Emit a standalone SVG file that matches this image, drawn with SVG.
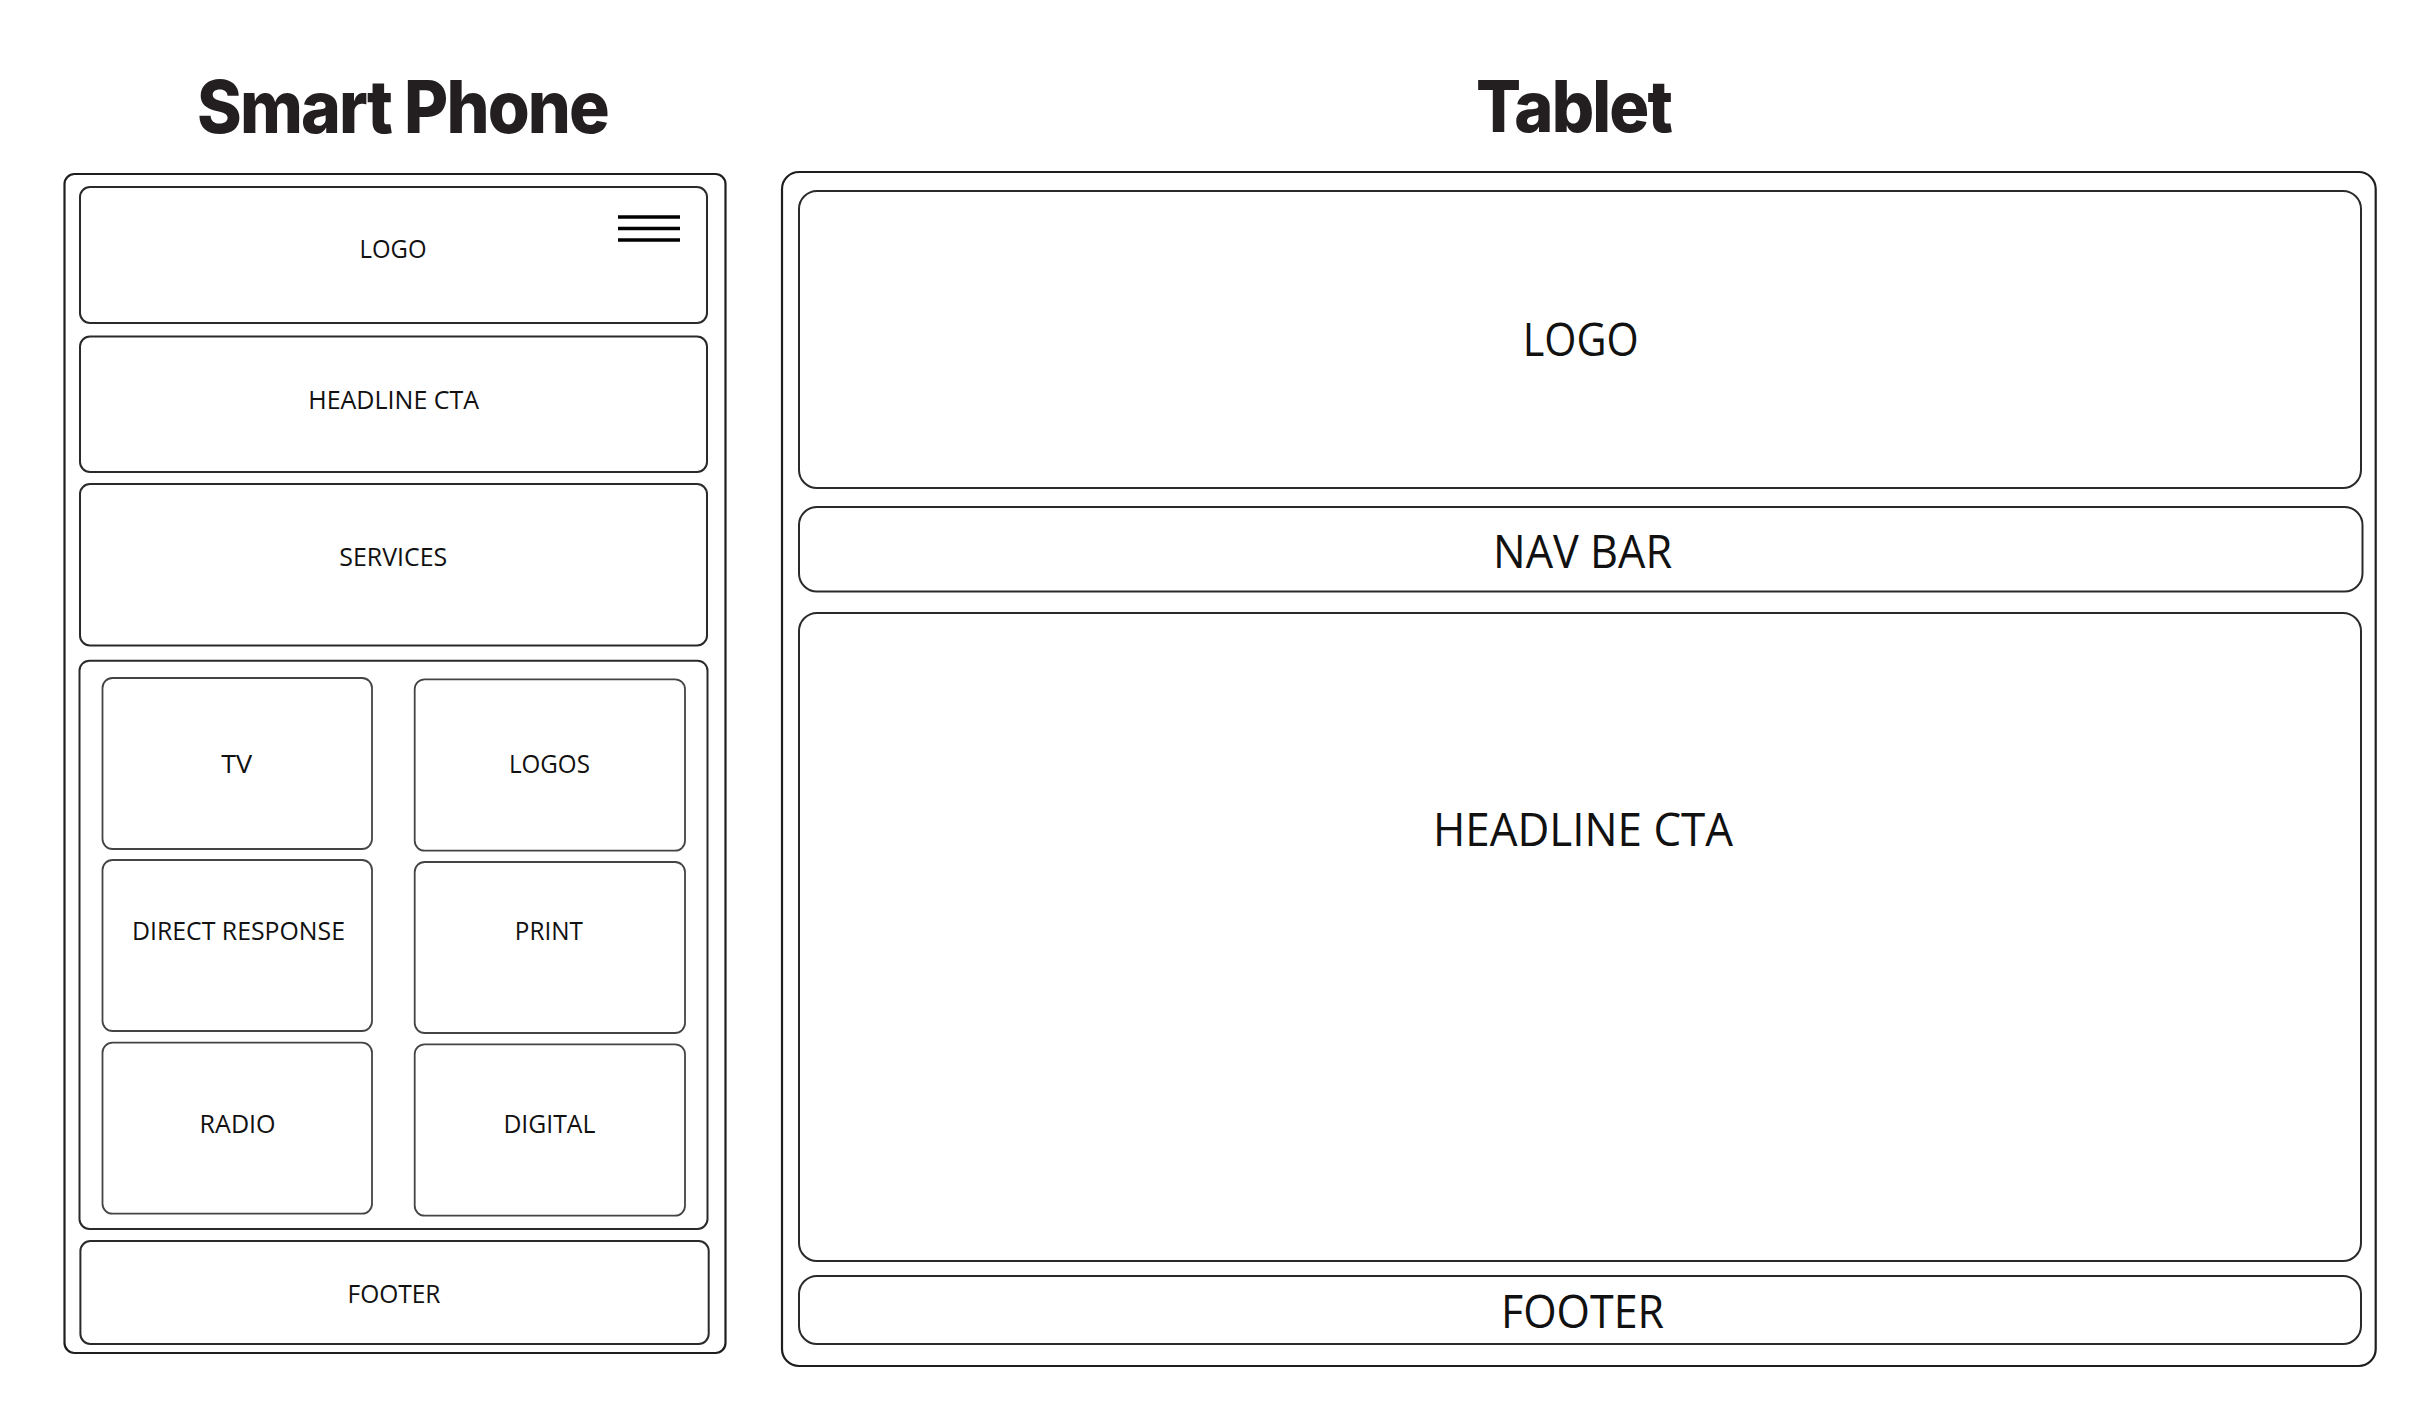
<svg xmlns="http://www.w3.org/2000/svg" width="2410" height="1416" viewBox="0 0 2410 1416">
  <style>
    .frame { fill: none; stroke: #1e1e1e; stroke-width: 2.2; }
    .box { fill: #fff; stroke: #2a2a2a; stroke-width: 2; }
    .tile { fill: #fff; stroke: #444; stroke-width: 1.8; }
    .title { font-family: Inter, Lato, "Liberation Sans", sans-serif; font-weight: 800; fill: #231f20; text-anchor: middle; letter-spacing: -2px; }
    .lbl { font-family: "Open Sans", "Noto Sans", "Liberation Sans", sans-serif; fill: #111; text-anchor: middle; }
    .s { font-size: 25px; }
    .l { font-size: 45px; }
    .burger { stroke: #000; stroke-width: 3.5; }
  </style>
  <rect width="2410" height="1416" fill="#fff"/>

  <!-- Smart phone layout -->
  <g id="phone">
    <text class="title" x="402.5" y="133" font-size="73" textLength="411" lengthAdjust="spacingAndGlyphs">Smart Phone</text>
    <rect class="frame" x="64.5" y="174" width="661" height="1179" rx="10"/>

    <g id="phone-logo">
      <rect class="box" x="80" y="187" width="627" height="136" rx="10"/>
      <text class="lbl s" x="393" y="258" textLength="67" lengthAdjust="spacingAndGlyphs">LOGO</text>
      <line class="burger" x1="618" y1="217" x2="680" y2="217"/>
      <line class="burger" x1="618" y1="228.5" x2="680" y2="228.5"/>
      <line class="burger" x1="618" y1="240" x2="680" y2="240"/>
    </g>

    <g id="phone-headline">
      <rect class="box" x="80" y="336.5" width="627" height="135.5" rx="10"/>
      <text class="lbl s" x="393.7" y="409.3" textLength="171" lengthAdjust="spacingAndGlyphs">HEADLINE CTA</text>
    </g>

    <g id="phone-services">
      <rect class="box" x="80" y="484" width="627" height="161.5" rx="10"/>
      <text class="lbl s" x="393.3" y="566" textLength="108" lengthAdjust="spacingAndGlyphs">SERVICES</text>
    </g>

    <g id="phone-service-grid">
      <rect class="box" x="79.5" y="660.7" width="628" height="568.3" rx="10"/>

      <g id="tile-tv">
        <rect class="tile" x="102.5" y="678" width="269.5" height="171" rx="10"/>
        <text class="lbl s" x="236.7" y="772.7" textLength="31" lengthAdjust="spacingAndGlyphs">TV</text>
      </g>
      <g id="tile-logos">
        <rect class="tile" x="414.7" y="679.3" width="270.3" height="171.4" rx="10"/>
        <text class="lbl s" x="549.4" y="772.7" textLength="81" lengthAdjust="spacingAndGlyphs">LOGOS</text>
      </g>
      <g id="tile-direct-response">
        <rect class="tile" x="102.5" y="860" width="269.5" height="171" rx="10"/>
        <text class="lbl s" x="238.5" y="940" textLength="213" lengthAdjust="spacingAndGlyphs">DIRECT RESPONSE</text>
      </g>
      <g id="tile-print">
        <rect class="tile" x="414.7" y="862" width="270.3" height="171" rx="10"/>
        <text class="lbl s" x="548.8" y="940" textLength="68" lengthAdjust="spacingAndGlyphs">PRINT</text>
      </g>
      <g id="tile-radio">
        <rect class="tile" x="102.5" y="1042.7" width="269.5" height="171" rx="10"/>
        <text class="lbl s" x="237.6" y="1132.7" textLength="76" lengthAdjust="spacingAndGlyphs">RADIO</text>
      </g>
      <g id="tile-digital">
        <rect class="tile" x="414.7" y="1044.3" width="270.3" height="171.4" rx="10"/>
        <text class="lbl s" x="549.4" y="1132.7" textLength="92" lengthAdjust="spacingAndGlyphs">DIGITAL</text>
      </g>
    </g>

    <g id="phone-footer">
      <rect class="box" x="80.4" y="1241" width="628.3" height="103" rx="10"/>
      <text class="lbl s" x="394" y="1302.7" textLength="93" lengthAdjust="spacingAndGlyphs">FOOTER</text>
    </g>
  </g>

  <!-- Tablet layout -->
  <g id="tablet">
    <text class="title" x="1573.5" y="131.7" font-size="71" textLength="195" lengthAdjust="spacingAndGlyphs">Tablet</text>
    <rect class="frame" x="782" y="172" width="1593.7" height="1194" rx="17"/>

    <g id="tablet-logo">
      <rect class="box" x="799" y="191" width="1562" height="297" rx="18"/>
      <text class="lbl l" x="1580.7" y="355.7" textLength="116" lengthAdjust="spacingAndGlyphs">LOGO</text>
    </g>

    <g id="tablet-nav">
      <rect class="box" x="799" y="507" width="1563.5" height="84.5" rx="18"/>
      <text class="lbl l" x="1582.6" y="568.3" textLength="179" lengthAdjust="spacingAndGlyphs">NAV BAR</text>
    </g>

    <g id="tablet-headline">
      <rect class="box" x="799" y="613" width="1562" height="648" rx="18"/>
      <text class="lbl l" x="1583" y="846" textLength="300" lengthAdjust="spacingAndGlyphs">HEADLINE CTA</text>
    </g>

    <g id="tablet-footer">
      <rect class="box" x="799" y="1276" width="1562" height="68" rx="18"/>
      <text class="lbl l" x="1582.5" y="1328.3" textLength="163" lengthAdjust="spacingAndGlyphs">FOOTER</text>
    </g>
  </g>
</svg>
